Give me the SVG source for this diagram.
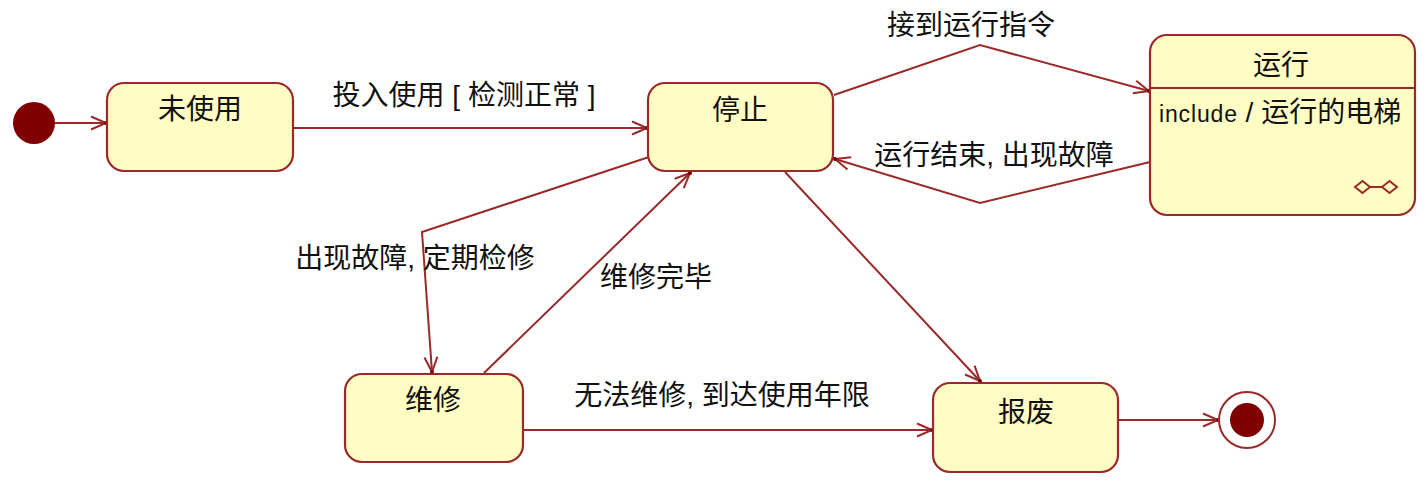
<svg xmlns="http://www.w3.org/2000/svg" width="1425" height="490" viewBox="0 0 1425 490">
<style>
.st{fill:#FFFCC4;stroke:#9A2A2A;stroke-width:2.2}
.lbl{font-family:"Liberation Sans","Noto Sans CJK SC",sans-serif;font-size:28px;fill:#111}
.nm{text-anchor:middle}
.cn{fill:none;stroke:#9A2A2A;stroke-width:2}
</style>
<defs>
<marker id="arr" markerUnits="userSpaceOnUse" markerWidth="20" markerHeight="16" viewBox="-16 -8 18 16" refX="0" refY="0" orient="auto">
<path d="M-15,-6.5 L0,0 L-15,6.5" fill="none" stroke="#9A2A2A" stroke-width="2"/>
<circle cx="0" cy="0" r="2" fill="#7A0000"/>
</marker>
</defs>
<rect width="1425" height="490" fill="#fff"/>

<g id="connectors">
<line class="cn" x1="55" y1="123" x2="106" y2="123" marker-end="url(#arr)"/>
<line class="cn" x1="293" y1="128" x2="647" y2="128" marker-end="url(#arr)"/>
<polyline class="cn" points="834,95 980,45 1149,91" marker-end="url(#arr)"/>
<polyline class="cn" points="1150,162 980,203 835,159" marker-end="url(#arr)"/>
<polyline class="cn" points="649,157 422,232 432,372" marker-end="url(#arr)"/>
<line class="cn" x1="484" y1="373" x2="690" y2="173" marker-end="url(#arr)"/>
<line class="cn" x1="785" y1="172" x2="980" y2="381" marker-end="url(#arr)"/>
<line class="cn" x1="523" y1="430" x2="932" y2="430" marker-end="url(#arr)"/>
<line class="cn" x1="1118" y1="420" x2="1218" y2="420" marker-end="url(#arr)"/>
<text class="lbl nm" x="464" y="105">投入使用 [ 检测正常 ]</text>
<text class="lbl nm" x="971" y="35">接到运行指令</text>
<text class="lbl nm" x="994" y="165">运行结束, 出现故障</text>
<text class="lbl nm" x="415" y="268">出现故障, 定期检修</text>
<text class="lbl nm" x="656" y="287">维修完毕</text>
<text class="lbl nm" x="722" y="405">无法维修, 到达使用年限</text>
</g>

<g id="initial">
<circle cx="34" cy="123" r="21" fill="#800000"/>
</g>

<g id="node-weishiyong">
<rect class="st" x="107" y="83" width="186" height="88" rx="17"/>
<text class="lbl nm" x="200" y="119">未使用</text>
</g>

<g id="node-tingzhi">
<rect class="st" x="648" y="83" width="185" height="88" rx="17"/>
<text class="lbl nm" x="740" y="120">停止</text>
</g>

<g id="node-yunxing">
<rect class="st" x="1150" y="35" width="265" height="180" rx="17"/>
<line x1="1150" y1="88" x2="1415" y2="88" stroke="#9A2A2A" stroke-width="2"/>
<text class="lbl nm" x="1281" y="75">运行</text>
<text class="lbl" x="1159" y="122"><tspan font-size="23px" textLength="78">include</tspan> / 运行的电梯</text>
<g fill="none" stroke="#9A2A2A" stroke-width="2">
<path d="M1355,187 L1362.5,181 L1370,187 L1362.5,193 Z"/>
<path d="M1382,187 L1389.5,181 L1397,187 L1389.5,193 Z"/>
<line x1="1370" y1="187" x2="1382" y2="187"/>
</g>
</g>

<g id="node-weixiu">
<rect class="st" x="345" y="374" width="178" height="88" rx="17"/>
<text class="lbl nm" x="433" y="410">维修</text>
</g>

<g id="node-baofei">
<rect class="st" x="933" y="383" width="185" height="89" rx="17"/>
<text class="lbl nm" x="1026" y="422">报废</text>
</g>

<g id="final">
<circle cx="1247" cy="420" r="28" fill="#fff" stroke="#9A2A2A" stroke-width="2"/>
<circle cx="1247" cy="420" r="17" fill="#800000"/>
</g>
</svg>
